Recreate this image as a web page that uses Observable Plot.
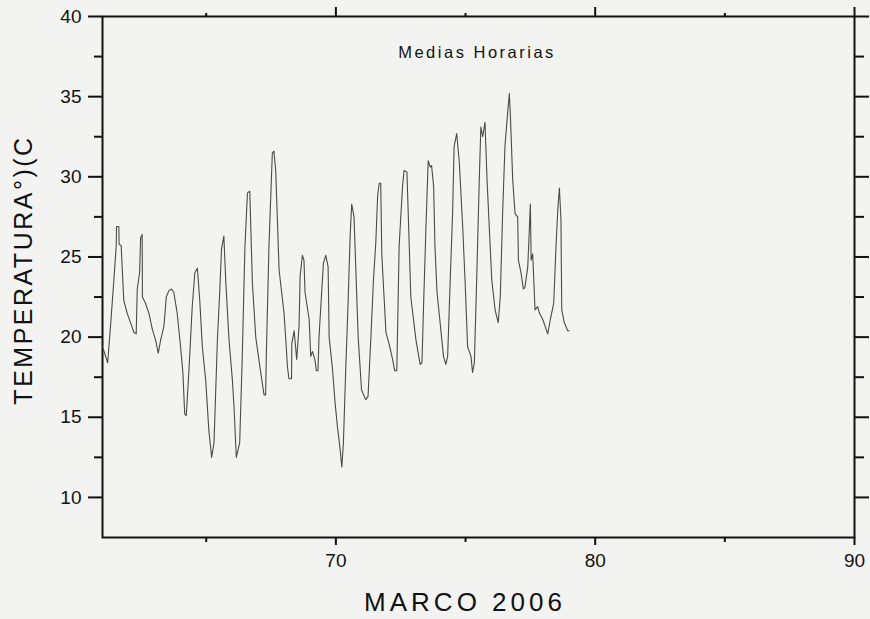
<!DOCTYPE html>
<html>
<head>
<meta charset="utf-8">
<script src="https://cdn.jsdelivr.net/npm/d3@7"></script>
<script src="https://cdn.jsdelivr.net/npm/@observablehq/plot@0.6"></script>
<style>
  html, body { margin: 0; padding: 0; background: #f3f4f2; }
  #chart svg { display: block; }
</style>
</head>
<body>
<div id="chart"></div>
<script>
// Day of March 2006 (fractional) and hourly-mean temperature (°C)
const days = [
  61.00, 61.20, 61.31, 61.44, 61.53, 61.54, 61.63, 61.64, 61.72, 61.82,
  61.95, 62.08, 62.21, 62.30, 62.34, 62.43, 62.47, 62.53, 62.54, 62.66,
  62.79, 62.92, 63.05, 63.15, 63.24, 63.37, 63.46, 63.56, 63.66, 63.75,
  63.88, 64.01, 64.10, 64.17, 64.23, 64.33, 64.46, 64.56, 64.66, 64.75,
  64.85, 64.98, 65.10, 65.21, 65.30, 65.43, 65.52, 65.59, 65.68, 65.75,
  65.88, 66.01, 66.07, 66.16, 66.29, 66.39, 66.49, 66.59, 66.68, 66.78,
  66.91, 67.10, 67.23, 67.29, 67.32, 67.42, 67.55, 67.61, 67.68, 67.81,
  68.00, 68.07, 68.13, 68.19, 68.29, 68.30, 68.39, 68.49, 68.58, 68.62,
  68.71, 68.77, 68.81, 68.97, 69.03, 69.10, 69.19, 69.25, 69.31, 69.35,
  69.44, 69.52, 69.61, 69.70, 69.74, 69.87, 69.97, 70.06, 70.15, 70.23,
  70.29, 70.38, 70.47, 70.55, 70.61, 70.70, 70.77, 70.86, 70.99, 71.15,
  71.24, 71.35, 71.45, 71.54, 71.61, 71.67, 71.73, 71.77, 71.93, 72.05,
  72.19, 72.27, 72.35, 72.44, 72.57, 72.63, 72.74, 72.81, 72.89, 73.09,
  73.25, 73.32, 73.38, 73.47, 73.56, 73.64, 73.69, 73.77, 73.82, 73.90,
  74.02, 74.15, 74.24, 74.31, 74.41, 74.50, 74.56, 74.66, 74.76, 74.89,
  74.98, 75.08, 75.21, 75.27, 75.34, 75.43, 75.53, 75.59, 75.66, 75.75,
  75.83, 75.92, 76.01, 76.14, 76.26, 76.34, 76.43, 76.52, 76.63, 76.69,
  76.73, 76.82, 76.91, 77.01, 77.04, 77.14, 77.23, 77.29, 77.40, 77.46,
  77.50, 77.53, 77.59, 77.68, 77.78, 77.85, 77.98, 78.17, 78.27, 78.40,
  78.49, 78.56, 78.62, 78.68, 78.71, 78.81, 78.94, 79.00
];
const temps = [
  19.4, 18.4, 20.7, 23.6, 25.7, 26.9, 26.9, 25.8, 25.7, 22.3,
  21.5, 20.9, 20.3, 20.2, 23.0, 24.0, 26.2, 26.4, 22.5, 22.1,
  21.5, 20.5, 19.8, 19.0, 19.8, 20.7, 22.5, 22.9, 23.0, 22.8,
  21.5, 19.4, 17.8, 15.2, 15.1, 17.8, 21.9, 24.0, 24.3, 22.3,
  19.4, 17.3, 14.2, 12.5, 13.4, 19.8, 22.8, 25.5, 26.3, 23.6,
  19.8, 17.3, 15.7, 12.5, 13.4, 18.8, 25.5, 29.0, 29.1, 23.4,
  20.0, 17.8, 16.4, 16.4, 19.0, 25.7, 31.5, 31.6, 30.4, 24.2,
  21.5, 19.8, 18.2, 17.4, 17.4, 19.6, 20.4, 18.6, 20.7, 23.8,
  25.1, 24.8, 22.8, 21.1, 18.8, 19.1, 18.6, 17.9, 17.9, 20.0,
  22.5, 24.6, 25.1, 24.4, 20.0, 18.0, 15.9, 14.4, 13.2, 11.9,
  13.4, 18.0, 22.1, 26.3, 28.3, 27.5, 24.2, 20.0, 16.7, 16.1,
  16.3, 20.0, 23.6, 25.9, 28.8, 29.6, 29.6, 25.2, 20.3, 19.6,
  18.6, 17.9, 17.9, 25.7, 29.4, 30.4, 30.3, 26.7, 22.5, 19.8,
  18.3, 18.4, 21.9, 26.7, 31.0, 30.6, 30.7, 29.4, 25.7, 22.8,
  20.9, 18.8, 18.3, 18.8, 23.6, 27.7, 31.9, 32.7, 30.9, 26.9,
  23.6, 19.4, 18.8, 17.8, 18.4, 23.6, 29.8, 33.1, 32.5, 33.4,
  29.8, 26.7, 23.6, 21.7, 20.9, 22.5, 27.7, 31.9, 34.1, 35.2,
  33.8, 29.8, 27.7, 27.5, 24.8, 24.0, 23.0, 23.1, 24.4, 26.7,
  28.3, 24.8, 25.2, 21.7, 21.9, 21.5, 21.1, 20.2, 21.1, 22.1,
  25.7, 28.0, 29.3, 27.3, 21.7, 20.9, 20.4, 20.4
];

// Axis tick values
const xMajorTicks = [70, 80, 90];
const xMinorTicks = [65, 75, 85];
const yMajorTicks = [10, 15, 20, 25, 30, 35, 40];
const yMinorTicks = [12.5, 17.5, 22.5, 27.5, 32.5, 37.5];

const xDomain = [61, 90];
const yDomain = [7.5, 40];

const titleText = "Medias Horarias";
const xLabelText = "MARCO 2006";
const yLabelText = "TEMPERATURA°)(C";

const series = days.map((d, i) => ({day: d, temp: temps[i]}));

const FONT = "'Liberation Sans', Arial, Helvetica, sans-serif";
const blank = () => "";

const chart = Plot.plot({
  width: 870,
  height: 619,
  marginLeft: 102,
  marginRight: 16,
  marginTop: 16,
  marginBottom: 82,
  style: {background: "transparent", fontFamily: FONT, fontSize: "19px", color: "#111"},
  x: {domain: xDomain},
  y: {domain: yDomain},
  marks: [
    // bottom axis
    Plot.axisX(xMajorTicks, {anchor: "bottom", tickSize: 8, tickPadding: 8, strokeWidth: 2, fontSize: 19, fill: "#111", label: null, tickFormat: d => String(d)}),
    Plot.axisX(xMinorTicks, {anchor: "bottom", tickSize: 5, strokeWidth: 2, label: null, tickFormat: blank}),
    // top axis
    Plot.axisX(xMajorTicks, {anchor: "top", tickSize: 10, strokeWidth: 2, label: null, tickFormat: blank}),
    Plot.axisX(xMinorTicks, {anchor: "top", tickSize: 4, strokeWidth: 2, label: null, tickFormat: blank}),
    // left axis
    Plot.axisY(yMajorTicks, {anchor: "left", tickSize: 14, tickPadding: 7, strokeWidth: 2, fontSize: 19, fill: "#111", label: null, tickFormat: d => String(d)}),
    Plot.axisY(yMinorTicks, {anchor: "left", tickSize: 8, strokeWidth: 2, label: null, tickFormat: blank}),
    // right axis
    Plot.axisY(yMajorTicks, {anchor: "right", tickSize: 14, strokeWidth: 2, label: null, tickFormat: blank}),
    Plot.axisY(yMinorTicks, {anchor: "right", tickSize: 9, strokeWidth: 2, label: null, tickFormat: blank}),
    Plot.frame({stroke: "#111", strokeWidth: 2}),
    Plot.line(series, {x: "day", y: "temp", stroke: "#4a4a4a", strokeWidth: 1.1})
  ]
});

document.getElementById("chart").appendChild(chart);

// Titles as real text
const svg = d3.select(chart);
svg.append("text")
  .attr("x", 477).attr("y", 58)
  .attr("text-anchor", "middle")
  .attr("font-family", FONT).attr("font-size", 16.5)
  .attr("letter-spacing", "2.5px")
  .attr("fill", "#111")
  .text(titleText);
svg.append("text")
  .attr("x", 465).attr("y", 611)
  .attr("text-anchor", "middle")
  .attr("font-family", FONT).attr("font-size", 26)
  .attr("letter-spacing", "4px")
  .attr("fill", "#111")
  .text(xLabelText);
svg.append("text")
  .attr("transform", "translate(32,270) rotate(-90)")
  .attr("text-anchor", "middle")
  .attr("font-family", FONT).attr("font-size", 25)
  .attr("letter-spacing", "2.5px")
  .attr("fill", "#111")
  .text(yLabelText);
</script>
</body>
</html>
